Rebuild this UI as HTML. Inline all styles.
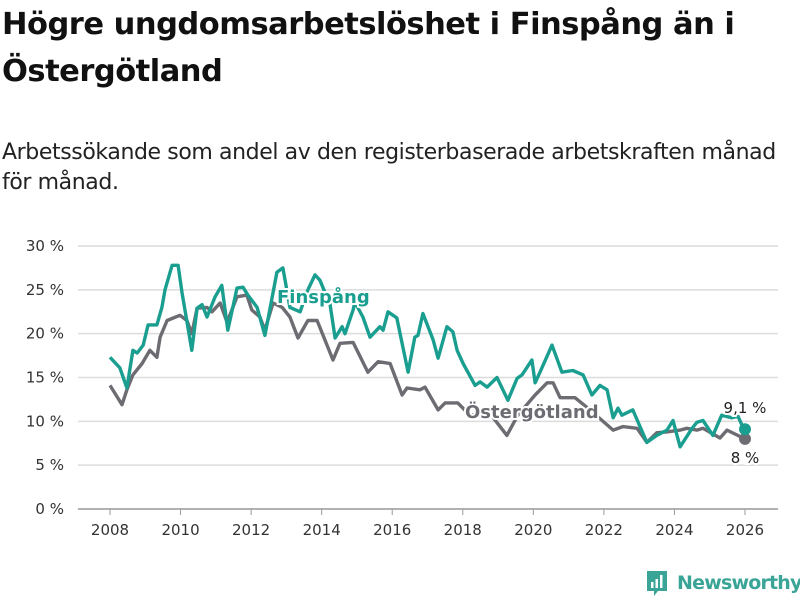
<!DOCTYPE html>
<html><head><meta charset="utf-8"><style>
body{margin:0;background:#fff;width:800px;height:600px;overflow:hidden;font-family:"Liberation Sans","DejaVu Sans",sans-serif;}
.t{position:absolute;left:2px;top:1px;font-size:30.5px;font-weight:bold;color:#111;line-height:47px;width:790px;font-family:"DejaVu Sans",sans-serif;letter-spacing:-0.5px}
.s{position:absolute;left:2px;top:138px;font-size:22px;color:#222;line-height:30px;font-family:"DejaVu Sans",sans-serif;letter-spacing:-0.4px;white-space:nowrap}
</style></head><body>
<div class="t">Högre ungdomsarbetslöshet i Finspång än i Östergötland</div>
<div class="s">Arbetssökande som andel av den registerbaserade arbetskraften månad<br>för månad.</div>
<svg id="c" width="800" height="600" style="position:absolute;left:0;top:0"></svg>
<script>
const yTicks=[0,5,10,15,20,25,30];
const xTicks=[2008,2010,2012,2014,2016,2018,2020,2022,2024,2026];
const finDates=[2008.00,2008.28,2008.48,2008.65,2008.77,2008.94,2009.08,2009.33,2009.47,2009.56,2009.76,2009.93,2010.04,2010.32,2010.47,2010.61,2010.75,2010.98,2011.17,2011.34,2011.60,2011.77,2011.91,2012.17,2012.39,2012.73,2012.90,2013.10,2013.39,2013.61,2013.81,2013.95,2014.24,2014.38,2014.58,2014.66,2014.89,2014.94,2015.17,2015.37,2015.65,2015.74,2015.88,2016.13,2016.45,2016.64,2016.73,2016.87,2017.16,2017.30,2017.55,2017.72,2017.84,2018.01,2018.35,2018.49,2018.69,2018.97,2019.28,2019.54,2019.68,2019.96,2020.05,2020.19,2020.53,2020.81,2021.12,2021.41,2021.66,2021.89,2022.09,2022.26,2022.40,2022.51,2022.82,2023.22,2023.50,2023.79,2023.96,2024.16,2024.50,2024.64,2024.81,2025.09,2025.34,2025.63,2025.80,2025.91,2026.00];
const finValues=[17.3,16.1,13.8,18.1,17.8,18.7,21,21,23,25,27.8,27.8,24.7,18.1,22.9,23.3,21.9,24.2,25.5,20.4,25.2,25.3,24.4,23,19.8,27,27.5,23,22.5,25,26.7,26.1,23.3,19.5,20.8,20,22.7,23.6,21.9,19.6,20.8,20.4,22.5,21.8,15.6,19.6,19.8,22.3,19.3,17.2,20.8,20.2,18.1,16.6,14.1,14.5,13.9,15,12.4,14.9,15.3,17,14.4,15.6,18.7,15.6,15.8,15.3,13,14.1,13.6,10.4,11.5,10.7,11.3,7.6,8.4,9,10.1,7.1,9.2,9.9,10.1,8.4,10.7,10.4,10.6,9.6,9.1];
const ostDates=[2008.00,2008.34,2008.48,2008.65,2008.91,2009.13,2009.33,2009.42,2009.62,2009.98,2010.18,2010.32,2010.47,2010.75,2010.89,2011.12,2011.32,2011.60,2011.88,2012.02,2012.25,2012.39,2012.62,2012.88,2013.10,2013.33,2013.61,2013.87,2014.32,2014.52,2014.89,2015.31,2015.60,2015.94,2016.28,2016.42,2016.79,2016.93,2017.30,2017.50,2017.86,2018.20,2018.77,2019.25,2019.56,2020.05,2020.39,2020.56,2020.76,2021.18,2021.61,2021.95,2022.26,2022.54,2022.94,2023.22,2023.50,2023.79,2024.16,2024.35,2024.64,2024.81,2025.29,2025.49,2026.00];
const ostValues=[14.1,11.9,13.6,15.3,16.6,18.1,17.3,19.6,21.5,22.1,21.5,20,22.9,23,22.5,23.5,21.3,24.2,24.4,22.7,21.9,20.4,23.5,23,21.9,19.5,21.5,21.5,17,18.9,19,15.6,16.8,16.6,13,13.8,13.6,13.9,11.3,12.1,12.1,10.7,10.9,8.4,10.7,13,14.4,14.4,12.7,12.7,11.3,10.1,9,9.4,9.2,7.6,8.7,8.8,9,9.2,9,9.2,8.1,9,8.0];
const svg=document.getElementById('c');const NS='http://www.w3.org/2000/svg';
const X=y=>110+(y-2008)*(635/18);
const Y=v=>509-v*(263/30);
function mk(t,a,p){const e=document.createElementNS(NS,t);for(const k in a)e.setAttribute(k,a[k]);(p||svg).appendChild(e);return e;}
const F='"DejaVu Sans","Liberation Sans",sans-serif';
yTicks.forEach(v=>{
 const l=mk('line',{x1:78,x2:778,y1:Y(v),y2:Y(v),stroke:v===0?'#999':'#dcdcdc','stroke-width':1.5});
 
 
 const t=mk('text',{x:64,y:Y(v)+5,'text-anchor':'end','font-size':15,fill:'#333','font-family':F});t.textContent=v+' %';
 
 
});
xTicks.forEach(y=>{
 const l=mk('line',{x1:X(y),x2:X(y),y1:509,y2:515,stroke:'#999','stroke-width':1});
 
 
 const t=mk('text',{x:X(y),y:535,'text-anchor':'middle','font-size':15,fill:'#333','font-family':F});t.textContent=y;
 
 
});
function line(d,v,col,name){
 const p=mk('path',{d:d.map((x,i)=>(i?'L':'M')+X(x).toFixed(1)+','+Y(v[i]).toFixed(1)).join(''),fill:'none',stroke:col,'stroke-width':3.4,'stroke-linejoin':'round'});
 
 
 const c=mk('circle',{cx:X(d[d.length-1]),cy:Y(v[v.length-1]),r:6,fill:col});
 
 
}
const gray='#6d6c72',teal='#1a9e8f';
line(ostDates,ostValues,gray,'ostergotland-line');
line(finDates,finValues,teal,'finspang-line');
function lab(txt,x,y,col,name,anchor,bold,size){
 const a={x:x,y:y,'font-size':size,fill:col,'font-family':F,'text-anchor':anchor,stroke:'#fff','stroke-width':4,'paint-order':'stroke'};
 if(bold)a['font-weight']='bold';
 const t=mk('text',a);t.textContent=txt;
 
 
}
lab('Finspång',277,303,teal,'finspang-label','start',true,18);
lab('Östergötland',465,418,gray,'ostergotland-label','start',true,18);
lab('9,1 %',745,413,'#222','finspang-last-value','middle',false,15);
lab('8 %',745,463,'#222','ostergotland-last-value','middle',false,15);
</script>
<div style="position:absolute;left:645px;top:569px;height:28px;display:flex;align-items:center">
<svg width="24" height="28" viewBox="0 0 24 28"><path d="M2 2h20v20H13l-4 5v-5H2z" fill="#3aa597"/><rect x="6" y="13" width="2.5" height="6" fill="#fff"/><rect x="10.5" y="10" width="2.5" height="9" fill="#fff"/><rect x="15" y="6" width="2.5" height="13" fill="#fff"/></svg>
<span style="margin-left:8px;font-size:19px;font-weight:bold;color:#3aa597;font-family:'DejaVu Sans',sans-serif;letter-spacing:-0.8px">Newsworthy</span></div>
</body></html>
